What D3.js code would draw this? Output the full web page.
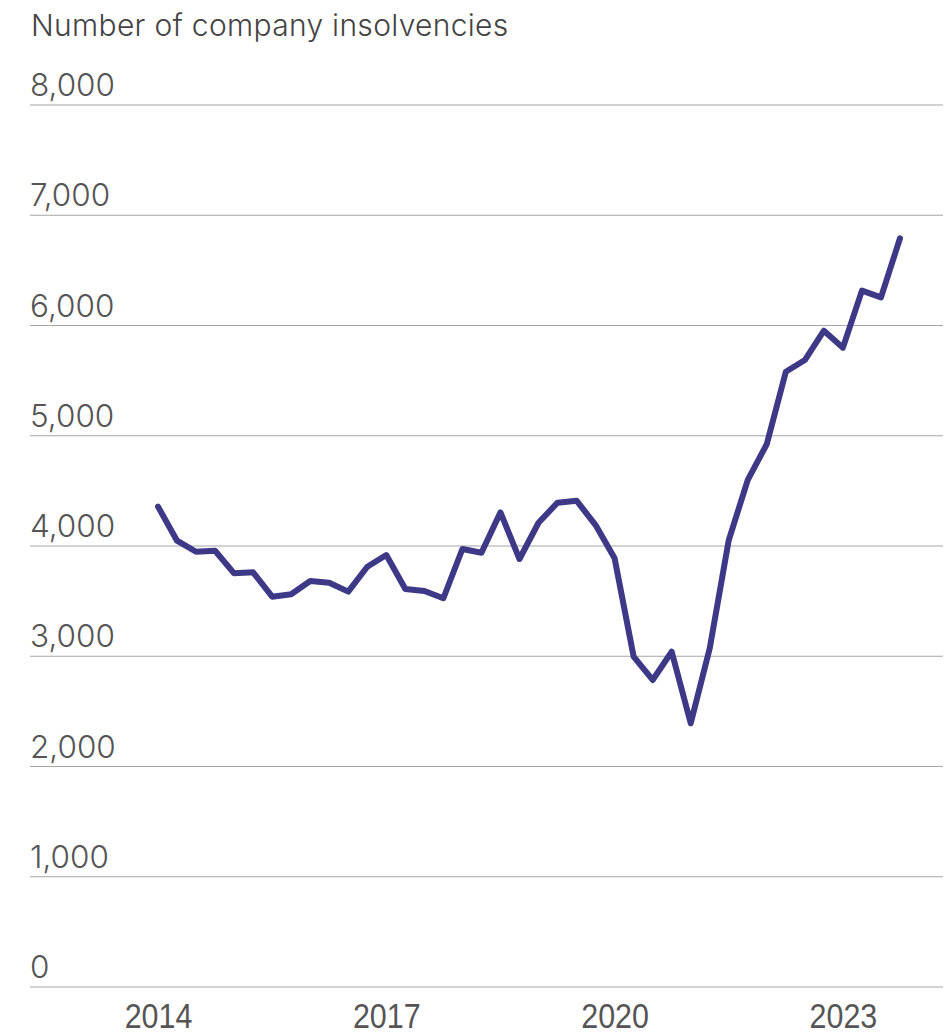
<!DOCTYPE html>
<html><head><meta charset="utf-8">
<script src="https://cdn.jsdelivr.net/npm/d3@7"></script>
<style>body{margin:0;background:#fff}</style>
</head><body>
<svg id="c" width="951" height="1035"></svg>
<script>
const title = "Number of company insolvencies";
const quarters = d3.range(40).map(i => `${2014 + Math.floor(i/4)} Q${i%4+1}`);
const insolvencies = [4357,4048,3948,3957,3752,3761,3540,3562,3683,3667,3586,3812,
  3918,3610,3592,3526,3973,3939,4305,3882,4211,4393,4411,4190,
  3888,2996,2785,3041,2392,3072,4054,4599,4925,5581,5687,5953,5799,6316,6255,6791];
const yTicks = [0,1000,2000,3000,4000,5000,6000,7000,8000];
const xTickLabels = ["2014","2017","2020","2023"];

const svg = d3.select("#c");
const x = d3.scaleLinear().domain([0,39]).range([158,900]);
const y = d3.scaleLinear().domain([0,8000]).range([987,105]);

svg.append("text").attr("x",31).attr("y",36).text(title)
  .attr("font-family","Inter, sans-serif").attr("font-weight",300).attr("font-size",30).attr("letter-spacing",0.3).attr("fill","#444");

const gy = svg.append("g");
yTicks.forEach(t=>{
  gy.append("line").attr("x1",30).attr("x2",943).attr("y1",y(t)).attr("y2",y(t))
    .attr("stroke","#a6a6a6").attr("stroke-width",1.2);
  gy.append("text").attr("x",30).attr("y",y(t)-9).text(d3.format(",")(t))
    .attr("font-family","Inter, sans-serif").attr("font-weight",300).attr("font-size",31.5).attr("fill","#555");
});

const xTickIdx = xTickLabels.map(l => quarters.indexOf(l + " Q1"));
const xAxis = d3.axisBottom(x).tickValues(xTickIdx).tickSize(0).tickFormat(i => quarters[i].slice(0,4));
const gx = svg.append("g").attr("transform","translate(0,1028)").call(xAxis);
gx.select(".domain").remove();
gx.selectAll(".tick text").attr("y",0).attr("dy",0)
  .attr("font-family","'Liberation Sans', sans-serif").attr("font-weight",400)
  .attr("font-size",35).attr("fill","#555").attr("transform","scale(0.87,1)");
</script>
<script>
// line drawn after axes
const line = d3.line().x((d,i)=>x(i)).y(d=>y(d));
svg.append("path").datum(insolvencies).attr("d",line).attr("fill","none")
  .attr("stroke","#3d3987").attr("stroke-width",6).attr("stroke-linejoin","round").attr("stroke-linecap","round");
</script>
</body></html>
